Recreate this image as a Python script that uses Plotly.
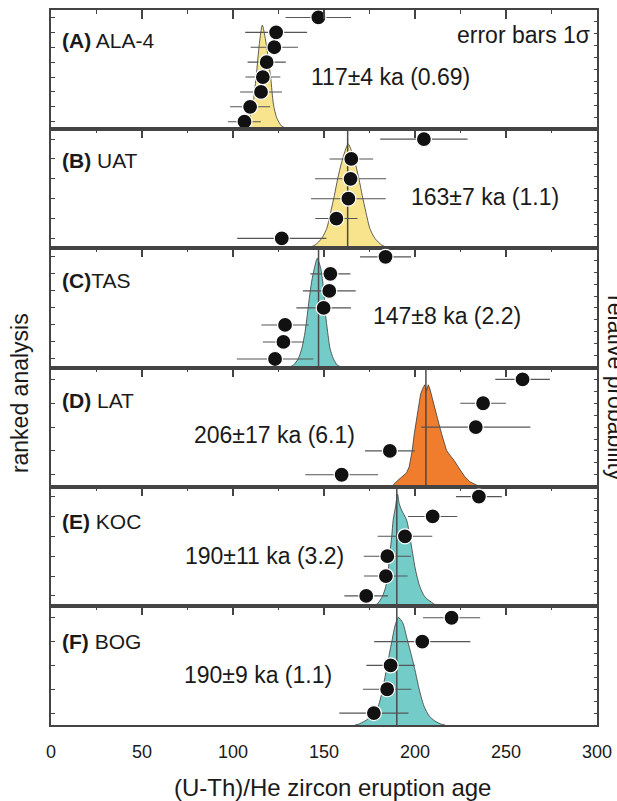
import plotly.graph_objects as go
from plotly.subplots import make_subplots

# ---------------- data ----------------
panel_letters = ["A", "B", "C", "D", "E", "F"]
panel_names = [" ALA-4", " UAT", "TAS", " LAT", " KOC", " BOG"]
stat_labels = ["117±4 ka (0.69)", "163±7 ka (1.1)", "147±8 ka (2.2)",
               "206±17 ka (6.1)", "190±11 ka (3.2)", "190±9 ka (1.1)"]
mean_ages = [None, 163, 147, 206, 190, 190]
x_ticks = [0, 50, 100, 150, 200, 250, 300]
x_minor_ticks = [25, 75, 125, 175, 225, 275]

# ranked single-grain ages (ka) and 1 sigma errors, bottom -> top
ages_A = [106.3, 109.4, 115.4, 116.4, 118.5, 122.7, 123.7, 146.9]
err_A = [9.0, 11.0, 11.5, 9.6, 10.5, 13.0, 17.0, 18.0]
ages_B = [126.8, 156.8, 163.4, 164.6, 165.0, 204.9]
err_B = [24.5, 11.6, 20.5, 19.5, 12.0, 24.0]
ages_C = [123.1, 127.7, 128.6, 149.8, 152.9, 153.5, 183.8]
err_C = [21.0, 11.3, 13.0, 15.0, 14.5, 11.0, 14.0]
ages_D = [159.7, 186.2, 233.4, 237.4, 259.1]
err_D = [20.0, 13.7, 30.0, 12.5, 15.0]
ages_E = [173.2, 184.0, 184.8, 194.5, 209.7, 235.1]
err_E = [12.0, 12.0, 13.0, 15.0, 13.5, 12.6]
ages_F = [177.4, 184.7, 186.6, 204.0, 220.1]
err_F = [19.0, 13.3, 13.3, 26.4, 15.7]

# relative probability curves (age, relative height)
curve_x_A = [104.0, 105.7, 108.5, 110.9, 112.7, 114.5, 116.1, 118.2, 120.7, 122.2, 124.0, 126.8, 130.4, 133.0]
curve_p_A = [0, 0.01, 0.07, 0.21, 0.435, 0.72, 0.873, 0.72, 0.435, 0.21, 0.096, 0.025, 0.005, 0]
curve_x_B = [140.0, 141.4, 145.1, 148.7, 151.5, 153.7, 155.7, 157.5, 159.7, 163.3, 167.0, 169.2,
             171.0, 173.0, 175.2, 178.0, 181.7, 185.3, 187.0]
curve_p_B = [0, 0.005, 0.028, 0.083, 0.167, 0.306, 0.444, 0.583, 0.722, 0.875, 0.722, 0.583,
             0.444, 0.306, 0.167, 0.083, 0.028, 0.005, 0]
curve_x_C = [130.0, 131.0, 133.2, 135.9, 137.8, 139.6, 140.8, 141.9, 143.2, 144.7, 146.3, 148.2,
             149.3, 150.2, 150.9, 152.0, 153.3, 155.1, 157.3, 159.7, 161.0]
curve_p_C = [0, 0.005, 0.02, 0.076, 0.16, 0.30, 0.44, 0.58, 0.72, 0.832, 0.916, 0.832,
             0.72, 0.58, 0.44, 0.30, 0.16, 0.076, 0.02, 0.005, 0]
curve_x_D = [186.5, 188.0, 190.8, 193.5, 195.4, 196.8, 198.5, 199.6, 200.9, 202.3, 203.1, 204.5,
             205.4, 206.4, 207.3, 208.2, 210.0, 212.2, 214.6, 217.3, 219.2, 221.4, 223.7, 227.4,
             230.1, 233.8, 235.5]
curve_p_D = [0, 0.014, 0.056, 0.097, 0.117, 0.167, 0.306, 0.444, 0.583, 0.722, 0.778, 0.833,
             0.855, 0.806, 0.855, 0.819, 0.722, 0.583, 0.444, 0.306, 0.264, 0.222, 0.167, 0.083,
             0.042, 0.01, 0]
curve_x_E = [176.5, 177.6, 179.5, 182.0, 183.9, 185.3, 186.2, 187.2, 188.0, 189.3, 190.4, 191.3,
             192.6, 195.4, 197.2, 198.7, 200.3, 202.7, 205.4, 210.0, 211.8, 213.5]
curve_p_E = [0, 0.003, 0.02, 0.076, 0.16, 0.30, 0.44, 0.58, 0.72, 0.832, 0.938, 0.86,
             0.804, 0.72, 0.58, 0.44, 0.30, 0.16, 0.076, 0.02, 0.005, 0]
curve_x_F = [167.0, 168.8, 172.5, 176.2, 179.8, 182.2, 184.0, 185.7, 187.5, 189.0, 190.8, 193.2,
             195.7, 198.1, 200.3, 202.3, 204.9, 207.8, 210.9, 214.6, 216.5]
curve_p_F = [0, 0.006, 0.034, 0.076, 0.16, 0.30, 0.44, 0.58, 0.72, 0.832, 0.902, 0.86,
             0.72, 0.58, 0.44, 0.30, 0.16, 0.076, 0.034, 0.006, 0]

ages = [ages_A, ages_B, ages_C, ages_D, ages_E, ages_F]
errs = [err_A, err_B, err_C, err_D, err_E, err_F]
curves_x = [curve_x_A, curve_x_B, curve_x_C, curve_x_D, curve_x_E, curve_x_F]
curves_p = [curve_p_A, curve_p_B, curve_p_C, curve_p_D, curve_p_E, curve_p_F]

# ---------------- styles ----------------
YELLOW = "#F8E48C"
TEAL = "#74CCC8"
ORANGE = "#F07D2D"
fill_colors = [YELLOW, YELLOW, TEAL, ORANGE, TEAL, TEAL]
curve_smooth = [True, True, True, False, True, True]
AX = "#444444"
FONT = "Liberation Sans, Arial, Helvetica, sans-serif"
TXT = "#1a1a1a"

label_y = [0.745, 0.735, 0.73, 0.725, 0.71, 0.70]
stat_x = [186.5, 238.5, 217.5, 123.0, 117.5, 114.0]
stat_y = [0.435, 0.428, 0.43, 0.433, 0.42, 0.42]

fig = make_subplots(rows=6, cols=1, vertical_spacing=0,
                    specs=[[{"secondary_y": True}] for _ in range(6)])

for i in range(6):
    r = i + 1
    fig.add_trace(go.Scatter(
        x=curves_x[i], y=curves_p[i], mode="lines", fill="tozeroy",
        fillcolor=fill_colors[i],
        line=dict(color="#3a3a3a", width=0.8,
                  shape="spline" if curve_smooth[i] else "linear", smoothing=0.7),
        hoverinfo="skip", showlegend=False), row=r, col=1, secondary_y=False)
    if mean_ages[i] is not None:
        fig.add_trace(go.Scatter(
            x=[mean_ages[i], mean_ages[i]], y=[0, 1], mode="lines",
            line=dict(color="#4a4a4a", width=1.5), hoverinfo="skip", showlegend=False),
            row=r, col=1, secondary_y=False)
    n = len(ages[i])
    pts = go.Scatter(
        x=ages[i], y=list(range(1, n + 1)), mode="markers",
        marker=dict(size=15, color="#111111", line=dict(color="white", width=1.2)),
        error_x=dict(type="data", array=errs[i], color="#555555", thickness=1.1, width=0),
        showlegend=False)
    if r < 6:
        fig.add_trace(pts, row=r, col=1, secondary_y=True)
    else:
        pts.update(xaxis="x7", yaxis="y12")
        fig.add_trace(pts)

    fig.update_xaxes(row=r, col=1, domain=[0, 1], range=[0, 300], side="top", showline=True,
                     mirror=True, linecolor=AX, linewidth=2, ticks="inside", ticklen=9,
                     tickwidth=1.5, tickcolor=AX, tickvals=x_ticks, showticklabels=False,
                     showgrid=False, zeroline=False, automargin=False,
                     minor=dict(ticks="inside", ticklen=4, tickwidth=1, tickcolor=AX,
                                tickvals=x_minor_ticks, showgrid=False))
    fig.update_yaxes(row=r, col=1, secondary_y=False, range=[0, 1], side="right",
                     showline=True, mirror=True, linecolor=AX, linewidth=2,
                     ticks="inside", ticklen=3, tickwidth=1, tickcolor=AX, dtick=0.1,
                     showticklabels=False, showgrid=False, zeroline=False, automargin=False)
    fig.update_yaxes(row=r, col=1, secondary_y=True, range=[0.5, n + 0.5], side="left",
                     showline=False, ticks="inside", ticklen=4, tickwidth=1, tickcolor=AX,
                     tickvals=list(range(1, n + 1)), showticklabels=False, showgrid=False,
                     zeroline=False, automargin=False)

    xref = "x" if r == 1 else f"x{r}"
    yref = f"y{2 * r - 1} domain" if r > 1 else "y domain"
    fig.add_annotation(x=5.0, y=label_y[i], xref=xref, yref=yref, xanchor="left",
                       yanchor="middle", showarrow=False,
                       text=f"<b>({panel_letters[i]})</b>{panel_names[i]}",
                       font=dict(size=21, color=TXT, family=FONT))
    fig.add_annotation(x=stat_x[i], y=stat_y[i], xref=xref, yref=yref, xanchor="center",
                       yanchor="middle", showarrow=False, text=stat_labels[i],
                       font=dict(size=23, color=TXT, family=FONT))

fig.add_annotation(x=297, y=0.79, xref="x", yref="y domain", xanchor="right",
                   yanchor="middle", showarrow=False, text="error bars 1σ",
                   font=dict(size=23, color=TXT, family=FONT))

fig.update_layout(xaxis7=dict(overlaying="x6", anchor="y12", side="bottom", range=[0, 300],
                              tickvals=x_ticks, ticks="", showline=False, showgrid=False,
                              zeroline=False, ticklabelstandoff=14, automargin=False,
                              tickfont=dict(size=18, color=TXT, family=FONT)))

fig.add_annotation(x=0.515, y=-0.087, xref="paper", yref="paper", xanchor="center",
                   yanchor="middle", showarrow=False, text="(U-Th)/He zircon eruption age",
                   font=dict(size=24, color=TXT, family=FONT))
fig.add_annotation(x=-0.057, y=0.464, xref="paper", yref="paper", xanchor="center",
                   yanchor="middle", showarrow=False, text="ranked analysis", textangle=-90,
                   font=dict(size=23, color=TXT, family=FONT))
fig.add_annotation(x=1.035, y=0.471, xref="paper", yref="paper", xanchor="center",
                   yanchor="middle", showarrow=False, text="relative probability",
                   textangle=90, font=dict(size=23, color=TXT, family=FONT))

fig.update_layout(width=617, height=801, autosize=False,
                  margin=dict(l=51, r=20, t=10, b=76, autoexpand=False),
                  paper_bgcolor="white", plot_bgcolor="white", showlegend=False,
                  font=dict(family=FONT, color=TXT))

page_fix = (
    "document.documentElement.style.margin='0';"
    "document.body.style.margin='0';"
    "document.body.style.padding='0';"
    "document.body.style.overflow='hidden';"
)

fig.write_html("out.html", config={"responsive": False, "displayModeBar": False},
               post_script=page_fix)
